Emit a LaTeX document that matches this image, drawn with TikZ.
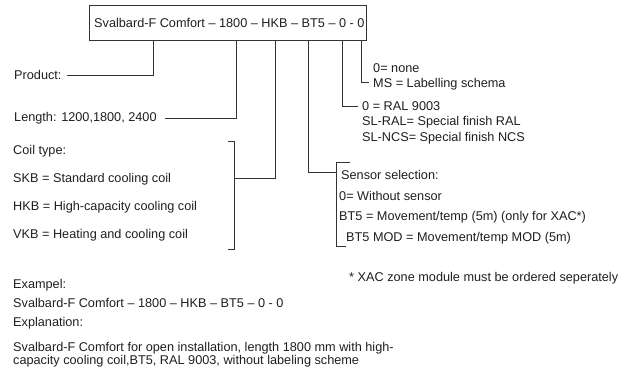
\documentclass[tikz,border=0pt]{standalone}
\usepackage{fontspec}
\setmainfont{Liberation Sans}
\begin{document}
\begin{tikzpicture}[x=1pt,y=-1pt,
  txt/.style={anchor=west,inner sep=0pt,text=black!88,font=\fontsize{12.7}{13}\selectfont},
  ln/.style={draw=black!80,line width=0.9pt}]
\useasboundingbox (0,0) rectangle (631,389);
% code box
\node[ln,draw,anchor=north west,minimum width=277pt,minimum height=35pt,inner sep=0pt] (box) at (89,5) {};
\node[txt] (code) at (94,22.5) {Svalbard-F Comfort – 1800 – HKB – BT5 – 0 - 0};
% coordinates on box bottom
\coordinate (c1) at (153,40);
\coordinate (c2) at (236,40);
\coordinate (c3) at (275,40);
\coordinate (c4) at (308,40);
\coordinate (c5) at (342,40);
\coordinate (c6) at (361,40);
% product
\node[txt] (prod) at (14,75) {Product:};
\draw[ln] (prod.east) ++(5,0) coordinate (p1) -- (c1 |- p1) -- (c1);
% length
\node[txt] (len) at (14,118) {Length: 1200,1800, 2400};
\draw[ln] (len.east) ++(8,0) coordinate (l1) -- (c2 |- l1) -- (c2);
% coil
\node[txt] (coil) at (13,151) {Coil type:};
\node[txt] (skb) at (13,179) {SKB = Standard cooling coil};
\node[txt] (hkb) at (13,207) {HKB = High-capacity cooling coil};
\node[txt] (vkb) at (13,235) {VKB = Heating and cooling coil};
\coordinate (cb1) at (228,141);
\coordinate (cb2) at (234,141);
\coordinate (cb3) at (234,249);
\coordinate (cb4) at (228,249);
\coordinate (cbm) at (234,178);
\draw[ln] (cb1) -- (cb2) -- (cb3) -- (cb4);
\draw[ln] (cbm) -- (c3 |- cbm) -- (c3);
% sensor
\node[txt] (sen) at (341,175) {Sensor selection:};
\node[txt] (s0) at (339,196) {0= Without sensor};
\node[txt] (sb) at (339,217) {BT5 = Movement/temp (5m) (only for XAC*)};
\node[txt] (sm) at (346,238) {BT5 MOD = Movement/temp MOD (5m)};
\coordinate (sb1) at (350,162);
\coordinate (sb2) at (336,162);
\coordinate (sb3) at (336,246);
\coordinate (sb4) at (346,246);
\coordinate (sbm) at (336,172);
\draw[ln] (sb1) -- (sb2) -- (sb3) -- (sb4);
\draw[ln] (c4) -- (c4 |- sbm) -- (sbm);
% paint
\node[txt] (ral) at (362,106) {0 = RAL 9003};
\node[txt] (slral) at (362,122) {SL-RAL= Special finish RAL};
\node[txt] (slncs) at (362,138) {SL-NCS= Special finish NCS};
\coordinate (pt) at (358,106);
\draw[ln] (c5) -- (c5 |- pt) -- (pt);
% labelling
\node[txt] (none) at (373,68) {0= none};
\node[txt] (ms) at (373,84) {MS = Labelling schema};
\coordinate (lt) at (369,82);
\draw[ln] (c6) -- (c6 |- lt) -- (lt);
% note
\node[txt] (note) at (349,278) {* XAC zone module must be ordered seperately};
% example
\node[txt] (ex) at (13,285) {Exampel:};
\node[txt] (exc) at (13,303) {Svalbard-F Comfort – 1800 – HKB – BT5 – 0 - 0};
\node[txt] (expl) at (13,323) {Explanation:};
\node[txt,anchor=north west,align=left] (para) at (13,342) {Svalbard-F Comfort for open installation, length 1800 mm with high-\\capacity cooling coil,BT5, RAL 9003, without labeling scheme};
\end{tikzpicture}
\end{document}
